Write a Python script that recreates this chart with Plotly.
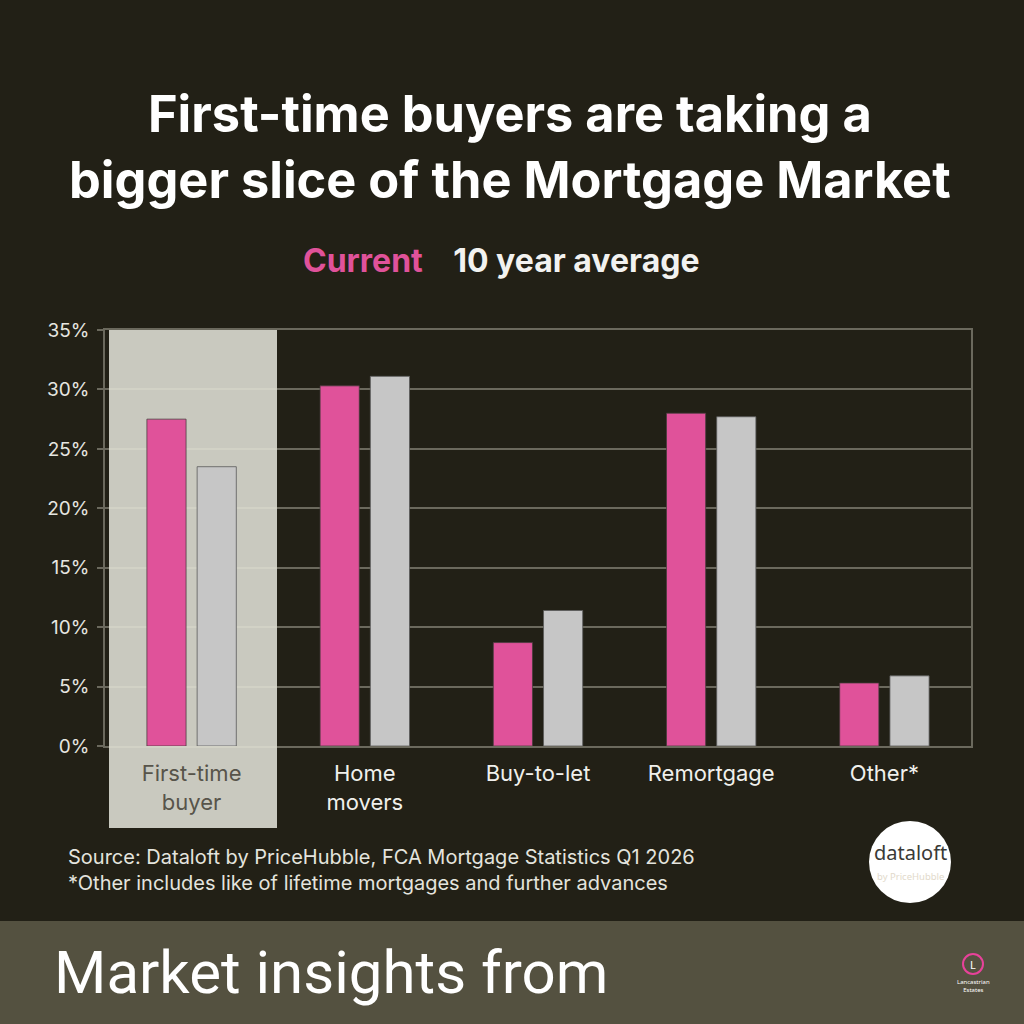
import plotly.graph_objects as go

# ---- data ----
categories = ["First-time buyer", "Home movers", "Buy-to-let", "Remortgage", "Other*"]
tick_labels = ["First-time<br>buyer", "Home<br>movers", "Buy-to-let", "Remortgage", "Other*"]
current = [27.5, 30.3, 8.7, 28.0, 5.3]
ten_year_avg = [23.5, 31.1, 11.4, 27.7, 5.9]
y_ticks = [0, 5, 10, 15, 20, 25, 30, 35]
y_tick_labels = ["0%", "5%", "10%", "15%", "20%", "25%", "30%", "35%"]
highlight_category = "First-time buyer"

# ---- style ----
BG = "#222016"
BAND = "#545140"
PINK = "#E0529A"
GREY = "#C6C6C6"
HILITE = "#C9C9BF"
GRID = "rgba(225,225,210,0.38)"
TXT = "#E6E6E0"

W_FIG, H_FIG = 1024, 1024
L, R, T, B = 105, 53, 330, 278
PW = W_FIG - L - R
PH = H_FIG - T - B


def px(xp):
    return (xp - L) / PW


def py(yp):
    return (H_FIG - B - yp) / PH


ticktext = []
for cat, lab in zip(categories, tick_labels):
    if cat == highlight_category:
        ticktext.append('<span style="color:#57544A">' + lab + "</span>")
    else:
        ticktext.append(lab)

fig = go.Figure()
fig.add_trace(go.Bar(
    x=categories, y=current, name="Current",
    marker=dict(color=PINK, line=dict(color="rgba(70,60,60,0.75)", width=1)),
))
fig.add_trace(go.Bar(
    x=categories, y=ten_year_avg, name="10 year average",
    marker=dict(color=GREY, line=dict(color="rgba(90,90,90,0.8)", width=1)),
))

shapes = [
    dict(type="rect", xref="paper", yref="paper",
         x0=px(109), x1=px(277), y0=py(828), y1=py(330),
         fillcolor=HILITE, line=dict(width=0), layer="below"),
    dict(type="rect", xref="paper", yref="paper",
         x0=px(0), x1=px(1024), y0=py(1024), y1=py(921),
         fillcolor=BAND, line=dict(width=0), layer="below"),
    dict(type="circle", xref="paper", yref="paper",
         xsizemode="pixel", ysizemode="pixel",
         xanchor=px(910), yanchor=py(862),
         x0=-41, x1=41, y0=-41, y1=41,
         fillcolor="white", line=dict(width=0), layer="above"),
    dict(type="circle", xref="paper", yref="paper",
         xsizemode="pixel", ysizemode="pixel",
         xanchor=px(973), yanchor=py(964),
         x0=-10, x1=10, y0=-10, y1=10,
         fillcolor="rgba(0,0,0,0)", line=dict(color="#E8429A", width=2), layer="above"),
]

annotations = [
    dict(text="First-time buyers are taking a<br>bigger slice of the Mortgage Market",
         xref="paper", yref="paper", x=px(510), y=py(81), xanchor="center", yanchor="top",
         showarrow=False, align="center",
         font=dict(family="Inter", size=50.5, color="white", weight="bold")),
    dict(text='<span style="color:%s">Current</span>    10 year average' % PINK,
         xref="paper", yref="paper", x=px(501), y=py(260), xanchor="center", yanchor="middle",
         showarrow=False,
         font=dict(family="Inter", size=32, color="#F2F2F0", weight="bold")),
    dict(text="Source: Dataloft by PriceHubble, FCA Mortgage Statistics Q1 2026<br>"
              "*Other includes like of lifetime mortgages and further advances",
         xref="paper", yref="paper", x=px(66), y=py(843), xanchor="left", yanchor="top",
         showarrow=False, align="left",
         font=dict(family="Inter", size=20, color="#E4E4DE")),
    dict(text="Market insights from",
         xref="paper", yref="paper", x=px(52), y=py(972), xanchor="left", yanchor="middle",
         showarrow=False,
         font=dict(family="Roboto", size=60, color="white")),
    dict(text="dataloft",
         xref="paper", yref="paper", x=px(910), y=py(852), xanchor="center", yanchor="middle",
         showarrow=False,
         font=dict(family="Noto Sans", size=20, color="#3A3A36")),
    dict(text="by PriceHubble",
         xref="paper", yref="paper", x=px(910), y=py(876), xanchor="center", yanchor="middle",
         showarrow=False,
         font=dict(family="Noto Sans", size=9.5, color="#E2DACB")),
    dict(text="L",
         xref="paper", yref="paper", x=px(973), y=py(964), xanchor="center", yanchor="middle",
         showarrow=False,
         font=dict(family="Noto Sans", size=11, color="white")),
    dict(text="Lancastrian<br>Estates",
         xref="paper", yref="paper", x=px(973), y=py(976), xanchor="center", yanchor="top",
         showarrow=False,
         font=dict(family="Noto Sans", size=6, color="white")),
]

fig.update_layout(
    width=W_FIG, height=H_FIG,
    margin=dict(l=L, r=R, t=T, b=B, pad=0),
    paper_bgcolor=BG, plot_bgcolor="rgba(0,0,0,0)",
    showlegend=False,
    barmode="group", bargap=0.42, bargroupgap=0.22,
    shapes=shapes, annotations=annotations,
)
fig.update_xaxes(
    tickmode="array", tickvals=categories, ticktext=ticktext,
    tickfont=dict(family="Inter", size=22, color="#F0F0EC"),
    showline=True, linecolor=GRID, linewidth=1.5, mirror=True,
    ticks="", showgrid=False, ticklabelstandoff=7,
)
fig.update_yaxes(
    range=[0, 35], tickmode="array", tickvals=y_ticks, ticktext=y_tick_labels,
    tickfont=dict(family="Inter", size=19, color=TXT),
    showgrid=True, gridcolor=GRID, gridwidth=1.5,
    showline=True, linecolor=GRID, linewidth=1.5, mirror=True,
    ticks="outside", ticklen=6, tickcolor=GRID, tickwidth=1.5,
    zeroline=False, ticklabelstandoff=4,
)

fig.write_html("out.html", config={"displayModeBar": False},
               post_script="document.body.style.margin='0';")
